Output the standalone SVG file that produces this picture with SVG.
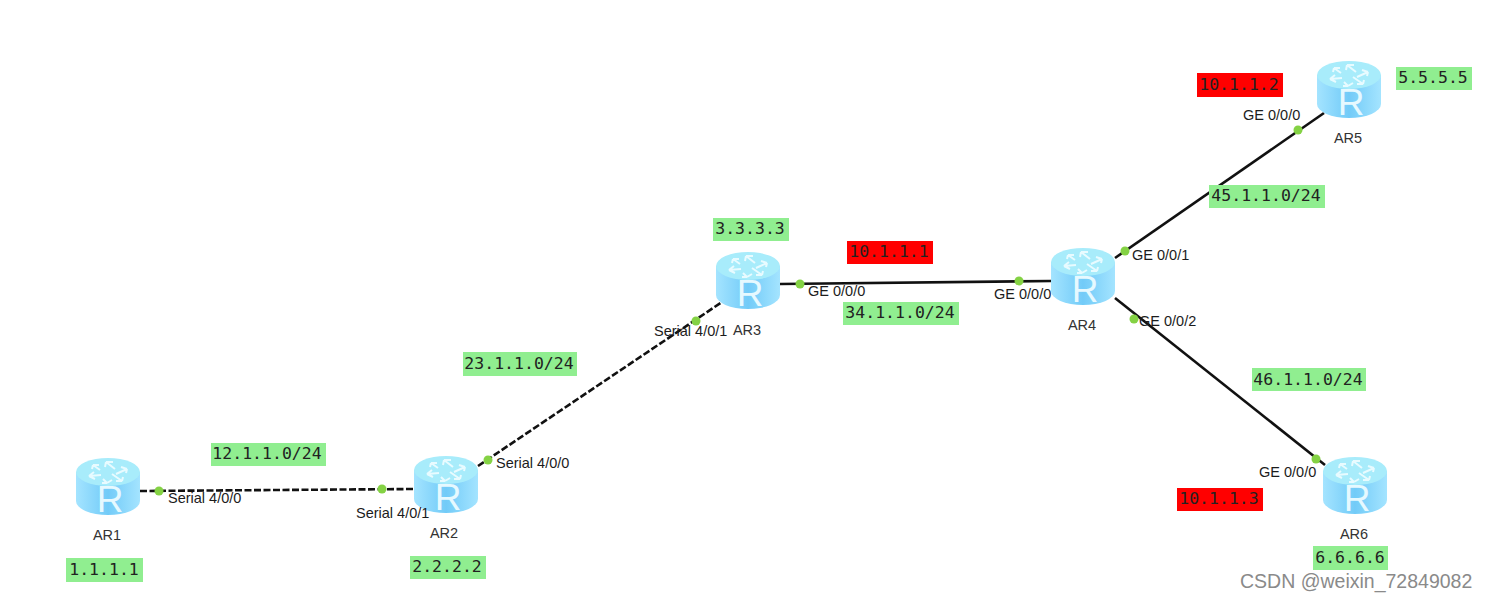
<svg xmlns="http://www.w3.org/2000/svg" width="1486" height="601" viewBox="0 0 1486 601">
<style>
.lnk{fill:none;stroke:#111;stroke-width:2.6}
.ser{stroke-dasharray:7 2.5}
.dot{fill:#84d244}
.port{font:14.5px "Liberation Sans",Arial,sans-serif;fill:#1c1c1c}
.name{font:14.5px "Liberation Sans",Arial,sans-serif;fill:#333;text-anchor:middle}
.tag{font:16.5px "DejaVu Sans Mono",monospace;fill:#222;text-anchor:middle}
.g{fill:#90ee90}
.r{fill:#ff0000}
.wm{font:19.5px "Liberation Sans",Arial,sans-serif;fill:#8a8a8a}
</style>
<defs>
<linearGradient id="side" x1="0" x2="1" y1="0" y2="0">
<stop offset="0" stop-color="#a4e4ff"/><stop offset=".5" stop-color="#72cbf8"/><stop offset="1" stop-color="#a4e4ff"/>
</linearGradient>
<g id="router">
<path d="M0 14V43A32 14 0 0 0 64 43V14Z" fill="url(#side)"/>
<ellipse cx="32" cy="14" rx="32" ry="14" fill="#a8ecfb"/>
<g fill="none" stroke="#e8fbff" stroke-width="2">
<path d="M24 12 17 7M17 7H23M17 7 16 11"/>
<path d="M25 17 13 18M13 18 18 14M13 18 19 21"/>
<path d="M39 11 30 4M30 4 37 4M30 4 29 9"/>
<path d="M40 16 51 11M51 11 45 9M51 11 50 15"/>
<path d="M36 16 46 23M46 23 40 23M46 23 47 19"/>
<path d="M27 21 31 25M31 25 36 22M31 25 26 25"/>
</g>
<text x="34" y="54" font-family="Liberation Sans,Arial,sans-serif" font-size="37" fill="#e6f9ff" text-anchor="middle">R</text>
</g>
</defs>
<rect width="1486" height="601" fill="#fff"/>
<g id="connectors">
<path class="lnk ser" d="M140 491 414 489"/>
<path class="lnk ser" d="M478 466 722 302"/>
<path class="lnk" d="M780 284 1051 281"/>
<path class="lnk" d="M1115 258 1324 113"/>
<path class="lnk" d="M1115 298 1325 465"/>
<g class="dot">
<circle cx="159" cy="491" r="4.500"/><circle cx="382" cy="489" r="4.500"/>
<circle cx="488" cy="460" r="4.500"/><circle cx="696" cy="321" r="4.500"/>
<circle cx="800" cy="284" r="4.500"/><circle cx="1019" cy="281" r="4.500"/>
<circle cx="1125" cy="251" r="4.500"/><circle cx="1298" cy="130" r="4.500"/>
<circle cx="1134" cy="319" r="4.500"/><circle cx="1316" cy="459" r="4.500"/>
</g>
</g>
<g id="AR1"><use href="#router" x="76" y="458"/><text class="name" x="107" y="540">AR1</text></g>
<g id="AR2"><use href="#router" x="414" y="456"/><text class="name" x="444" y="538">AR2</text></g>
<g id="AR3"><use href="#router" x="716" y="252"/><text class="name" x="747" y="335">AR3</text></g>
<g id="AR4"><use href="#router" x="1051" y="248"/><text class="name" x="1082" y="330">AR4</text></g>
<g id="AR5"><use href="#router" x="1317" y="61"/><text class="name" x="1348" y="143">AR5</text></g>
<g id="AR6"><use href="#router" x="1323" y="457"/><text class="name" x="1354" y="539">AR6</text></g>
<g id="ports">
<text class="port" x="168" y="503">Serial 4/0/0</text>
<text class="port" x="356" y="518">Serial 4/0/1</text>
<text class="port" x="496" y="468">Serial 4/0/0</text>
<text class="port" x="654" y="336">Serial 4/0/1</text>
<text class="port" x="808" y="296">GE 0/0/0</text>
<text class="port" x="994" y="299">GE 0/0/0</text>
<text class="port" x="1132" y="260">GE 0/0/1</text>
<text class="port" x="1139" y="326">GE 0/0/2</text>
<text class="port" x="1243" y="120">GE 0/0/0</text>
<text class="port" x="1259" y="477">GE 0/0/0</text>
</g>
<g id="tags">
<rect class="g" x="66" y="558" width="77" height="24"/><text class="tag" x="104" y="575">1.1.1.1</text>
<rect class="g" x="211" y="443" width="115" height="23"/><text class="tag" x="267" y="459">12.1.1.0/24</text>
<rect class="g" x="410" y="556" width="76" height="23"/><text class="tag" x="447" y="572">2.2.2.2</text>
<rect class="g" x="463" y="352" width="114" height="24"/><text class="tag" x="519" y="369">23.1.1.0/24</text>
<rect class="g" x="713" y="218" width="76" height="23"/><text class="tag" x="750" y="234">3.3.3.3</text>
<rect class="r" x="847" y="241" width="86" height="23"/><text class="tag" x="889" y="257">10.1.1.1</text>
<rect class="g" x="843" y="302" width="116" height="23"/><text class="tag" x="900" y="318">34.1.1.0/24</text>
<rect class="g" x="1209" y="185" width="116" height="23"/><text class="tag" x="1266" y="201">45.1.1.0/24</text>
<rect class="r" x="1197" y="73" width="86" height="24"/><text class="tag" x="1239" y="90">10.1.1.2</text>
<rect class="g" x="1396" y="67" width="76" height="23"/><text class="tag" x="1433" y="83">5.5.5.5</text>
<rect class="g" x="1252" y="368" width="114" height="23"/><text class="tag" x="1308" y="385">46.1.1.0/24</text>
<rect class="r" x="1177" y="488" width="86" height="23"/><text class="tag" x="1219" y="504">10.1.1.3</text>
<rect class="g" x="1313" y="546" width="75" height="24"/><text class="tag" x="1350" y="563">6.6.6.6</text>
</g>
<text class="wm" x="1240" y="588">CSDN @weixin_72849082</text>
</svg>
